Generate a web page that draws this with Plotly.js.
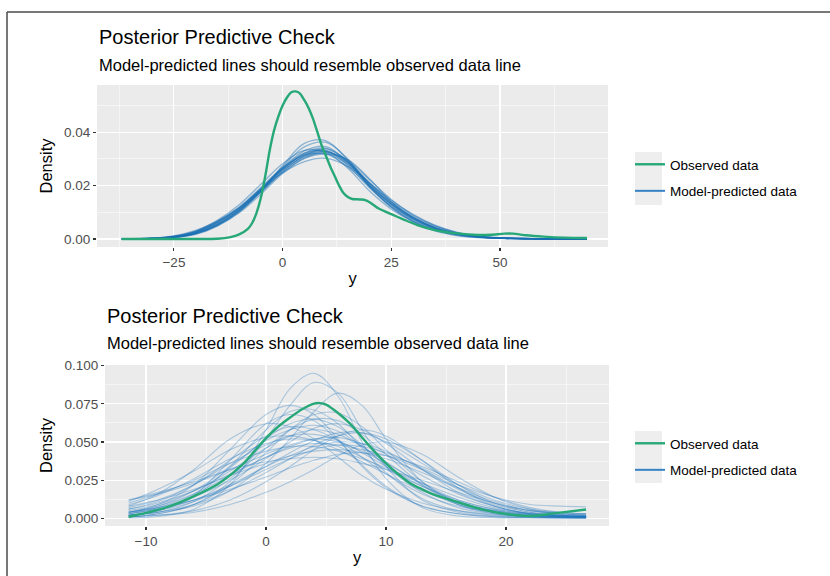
<!DOCTYPE html>
<html>
<head>
<meta charset="utf-8">
<script src="https://cdn.plot.ly/plotly-3.0.1.min.js"></script>
<style>html,body{margin:0;padding:0;background:#fff;}#chart{width:830px;height:576px;}</style>
</head>
<body>
<div id="chart"></div>
<script>
// ---------- Panel 1 data ----------
const p1ObsX = [-37,-30,-25,-20,-15,-12,-10,-8,-7,-6,-5,-4,-3,-2,-1,0,1,2,3,4,5,6,7,8,9,10,11,12,13,14,15,16,17,18,19,20,22,25,28,31,35,40,45,48,51,53,56,60,65,70];
const p1ObsY = [0,0,0,0,0.0001,0.0007,0.0017,0.0038,0.0060,0.0098,0.0155,0.0235,0.0330,0.0405,0.0458,0.0500,0.0530,0.0550,0.0553,0.0545,0.0520,0.0490,0.0450,0.0400,0.0350,0.0310,0.0270,0.0235,0.0200,0.0172,0.0157,0.0150,0.0149,0.0148,0.0146,0.0138,0.0115,0.0093,0.0072,0.0052,0.0033,0.0021,0.0015,0.0016,0.0020,0.0020,0.0014,0.0009,0.0005,0.0004];
const p1RepX = [-37,-30,-25,-20,-15,-10,-5,0,5,10,15,20,25,30,35,40,45,50,55,60,65,70];
const p1RepY = [
 [0,0.0002,0.0008,0.0024,0.0060,0.0112,0.0185,0.0262,0.0318,0.0332,0.0282,0.0200,0.0132,0.0080,0.0042,0.0020,0.0009,0.0004,0.0002,0.0001,0,0],
 [0,0.0001,0.0005,0.0017,0.0048,0.0100,0.0180,0.0270,0.0345,0.0362,0.0300,0.0200,0.0120,0.0065,0.0030,0.0013,0.0005,0.0002,0.0001,0,0,0],
 [0.0001,0.0004,0.0012,0.0032,0.0068,0.0118,0.0185,0.0248,0.0290,0.0302,0.0272,0.0210,0.0145,0.0092,0.0052,0.0026,0.0012,0.0005,0.0002,0.0001,0,0],
 [0,0.0003,0.0010,0.0030,0.0070,0.0128,0.0205,0.0282,0.0332,0.0325,0.0265,0.0180,0.0112,0.0065,0.0034,0.0016,0.0007,0.0003,0.0001,0,0,0],
 [0,0.0001,0.0006,0.0019,0.0050,0.0098,0.0168,0.0245,0.0303,0.0325,0.0295,0.0222,0.0148,0.0090,0.0050,0.0024,0.0010,0.0004,0.0002,0.0001,0,0],
 [0,0.0001,0.0006,0.0020,0.0052,0.0105,0.0182,0.0275,0.0358,0.0368,0.0295,0.0195,0.0118,0.0066,0.0033,0.0015,0.0006,0.0002,0.0001,0,0,0],
 [0,0.0002,0.0009,0.0026,0.0062,0.0115,0.0190,0.0265,0.0315,0.0328,0.0285,0.0205,0.0130,0.0076,0.0040,0.0019,0.0008,0.0003,0.0001,0,0,0],
 [0,0.0002,0.0007,0.0022,0.0055,0.0108,0.0178,0.0255,0.0312,0.0338,0.0292,0.0208,0.0135,0.0078,0.0041,0.0019,0.0008,0.0003,0.0001,0,0,0],
 [0,0.0002,0.0008,0.0023,0.0056,0.0106,0.0176,0.0250,0.0302,0.0318,0.0298,0.0225,0.0140,0.0080,0.0042,0.0020,0.0009,0.0004,0.0002,0.0001,0,0],
 [0.0001,0.0003,0.0011,0.0029,0.0066,0.0120,0.0193,0.0268,0.0322,0.0330,0.0275,0.0192,0.0124,0.0074,0.0040,0.0019,0.0008,0.0003,0.0001,0,0,0],
 [0,0.0002,0.0007,0.0021,0.0054,0.0107,0.0183,0.0266,0.0330,0.0346,0.0288,0.0196,0.0122,0.0070,0.0036,0.0017,0.0007,0.0003,0.0001,0,0,0],
 [0,0.0002,0.0009,0.0027,0.0064,0.0116,0.0186,0.0258,0.0308,0.0320,0.0280,0.0208,0.0140,0.0086,0.0048,0.0024,0.0011,0.0005,0.0002,0.0001,0,0],
 [0,0.0002,0.0008,0.0025,0.0059,0.0110,0.0181,0.0260,0.0322,0.0340,0.0290,0.0202,0.0128,0.0074,0.0038,0.0018,0.0008,0.0003,0.0001,0,0,0],
 [0,0.0001,0.0006,0.0020,0.0052,0.0103,0.0175,0.0252,0.0310,0.0328,0.0288,0.0212,0.0138,0.0082,0.0044,0.0021,0.0009,0.0004,0.0002,0.0001,0,0],
 [0.0001,0.0003,0.0010,0.0028,0.0063,0.0114,0.0187,0.0263,0.0314,0.0318,0.0270,0.0198,0.0132,0.0080,0.0044,0.0021,0.0009,0.0004,0.0002,0.0001,0,0]
];

// ---------- Panel 2 data ----------
const p2ObsX = [-11.45,-10,-8,-6,-4,-2,0,1,2,3,4,4.5,5,6,7,8,9,10,11,12,13,14,16,18,20,22,24,26.67];
const p2ObsY = [0.001,0.0035,0.008,0.0145,0.0225,0.035,0.0525,0.060,0.066,0.0715,0.0752,0.0755,0.0745,0.069,0.062,0.053,0.044,0.036,0.029,0.023,0.019,0.0155,0.0105,0.0058,0.0028,0.0015,0.0032,0.0058];
const p2RepX = [-11.45,-9,-6,-3,0,2,4,6,8,10,13,16,19,22,24.5,26.67];
const p2RepY = [
 [0.0003,0.0012,0.006,0.022,0.058,0.085,0.095,0.080,0.050,0.026,0.007,0.0015,0.0004,0.0002,0.0001,0.0001],
 [0.001,0.003,0.009,0.024,0.052,0.074,0.089,0.082,0.058,0.034,0.012,0.004,0.0015,0.0008,0.0005,0.0003],
 [0.002,0.004,0.008,0.018,0.036,0.052,0.070,0.082,0.074,0.052,0.024,0.009,0.003,0.0012,0.0006,0.0004],
 [0.004,0.009,0.022,0.045,0.068,0.074,0.068,0.052,0.034,0.020,0.008,0.003,0.0012,0.0006,0.0004,0.0003],
 [0.002,0.005,0.014,0.034,0.058,0.070,0.071,0.062,0.046,0.030,0.013,0.005,0.002,0.001,0.0007,0.0005],
 [0.001,0.003,0.009,0.022,0.043,0.058,0.068,0.069,0.060,0.045,0.024,0.010,0.004,0.0015,0.0008,0.0005],
 [0.003,0.007,0.016,0.033,0.052,0.062,0.065,0.060,0.048,0.034,0.017,0.007,0.003,0.0012,0.0008,0.0006],
 [0.004,0.007,0.014,0.025,0.039,0.050,0.059,0.062,0.058,0.049,0.032,0.017,0.008,0.003,0.0015,0.001],
 [0.006,0.011,0.022,0.038,0.054,0.060,0.058,0.051,0.040,0.029,0.016,0.008,0.004,0.002,0.0012,0.001],
 [0.005,0.009,0.018,0.031,0.046,0.054,0.058,0.055,0.047,0.037,0.022,0.011,0.005,0.002,0.001,0.0008],
 [0.002,0.004,0.009,0.018,0.030,0.039,0.048,0.054,0.056,0.052,0.038,0.022,0.010,0.004,0.002,0.0015],
 [0.007,0.012,0.022,0.036,0.048,0.054,0.055,0.051,0.043,0.034,0.021,0.011,0.005,0.0025,0.0015,0.001],
 [0.004,0.008,0.016,0.028,0.040,0.047,0.052,0.053,0.049,0.042,0.028,0.016,0.008,0.003,0.0018,0.0012],
 [0.009,0.015,0.026,0.039,0.049,0.052,0.051,0.047,0.040,0.032,0.021,0.012,0.006,0.003,0.002,0.0015],
 [0.003,0.006,0.012,0.022,0.034,0.041,0.047,0.050,0.049,0.044,0.032,0.019,0.010,0.005,0.003,0.002],
 [0.006,0.010,0.018,0.029,0.040,0.046,0.049,0.048,0.045,0.041,0.032,0.020,0.009,0.004,0.002,0.0015],
 [0.010,0.016,0.025,0.036,0.044,0.047,0.047,0.044,0.039,0.033,0.023,0.014,0.007,0.0035,0.0025,0.002],
 [0.008,0.012,0.019,0.028,0.036,0.041,0.044,0.045,0.043,0.039,0.030,0.020,0.011,0.005,0.003,0.0025],
 [0.004,0.007,0.012,0.019,0.027,0.033,0.038,0.042,0.043,0.041,0.034,0.024,0.014,0.007,0.004,0.003],
 [0.012,0.017,0.024,0.032,0.037,0.039,0.040,0.039,0.036,0.032,0.025,0.017,0.010,0.005,0.0035,0.003],
 [0.008,0.016,0.032,0.052,0.062,0.060,0.052,0.040,0.028,0.019,0.010,0.005,0.0025,0.0015,0.0012,0.001],
 [0.001,0.002,0.005,0.012,0.024,0.034,0.045,0.054,0.058,0.054,0.038,0.020,0.008,0.003,0.0015,0.001],
 [0.002,0.004,0.011,0.026,0.046,0.058,0.065,0.064,0.055,0.042,0.022,0.009,0.0035,0.0015,0.0009,0.0006],
 [0.002,0.005,0.011,0.021,0.034,0.043,0.051,0.056,0.056,0.050,0.036,0.022,0.012,0.006,0.004,0.003],
 [0.004,0.008,0.018,0.034,0.051,0.058,0.061,0.057,0.047,0.035,0.019,0.009,0.004,0.002,0.0013,0.001],
 [0.011,0.019,0.031,0.045,0.053,0.054,0.051,0.045,0.037,0.029,0.018,0.010,0.005,0.0025,0.0015,0.0012],
 [0.001,0.002,0.004,0.009,0.017,0.024,0.032,0.041,0.048,0.050,0.042,0.027,0.014,0.006,0.003,0.002],
 [0.002,0.005,0.015,0.038,0.062,0.068,0.064,0.051,0.035,0.021,0.008,0.003,0.001,0.0005,0.0003,0.0002],
 [0.003,0.006,0.012,0.021,0.032,0.039,0.045,0.048,0.047,0.043,0.033,0.022,0.014,0.009,0.008,0.0075],
 [0.012,0.016,0.023,0.032,0.042,0.048,0.052,0.050,0.044,0.036,0.023,0.012,0.006,0.003,0.002,0.0015]
];

// ---------- text ----------
const titleText = "Posterior Predictive Check";
const subtitleText = "Model-predicted lines should resemble observed data line";
const obsName = "Observed data";
const repName = "Model-predicted data";
const xTitle = "y";
const yTitle = "Density";

// ---------- styling ----------
const W = 830, H = 576;
const px = v => v / W;
const py = v => 1 - v / H;
const GREEN = "#27a878";
const BLUE_LEG = "#3583c4";
const FONT = "Liberation Sans, Arial, Helvetica, sans-serif";

const traces = [];
p1RepY.forEach((ys) => traces.push({
  type: "scatter", mode: "lines", x: p1RepX, y: ys, xaxis: "x", yaxis: "y",
  line: {color: "rgba(24,110,180,0.45)", width: 1.3, shape: "spline", smoothing: 1},
  showlegend: false, hoverinfo: "skip", legend: "legend", legendgroup: "rep1"
}));
traces.push({type: "scatter", mode: "lines", x: p1ObsX, y: p1ObsY, xaxis: "x", yaxis: "y",
  name: obsName, line: {color: GREEN, width: 2.4, shape: "spline", smoothing: 0.6},
  legend: "legend", legendgroup: "obs1", legendrank: 1});
traces.push({type: "scatter", mode: "lines", x: [null], y: [null], xaxis: "x", yaxis: "y",
  name: repName, line: {color: BLUE_LEG, width: 2}, legend: "legend", legendgroup: "rep1", legendrank: 2});

p2RepY.forEach((ys) => traces.push({
  type: "scatter", mode: "lines", x: p2RepX, y: ys, xaxis: "x2", yaxis: "y2",
  line: {color: "rgba(31,119,190,0.32)", width: 1.1, shape: "spline", smoothing: 1},
  showlegend: false, hoverinfo: "skip", legend: "legend2", legendgroup: "rep2"
}));
traces.push({type: "scatter", mode: "lines", x: p2ObsX, y: p2ObsY, xaxis: "x2", yaxis: "y2",
  name: obsName, line: {color: GREEN, width: 2.4, shape: "spline", smoothing: 0.8},
  legend: "legend2", legendgroup: "obs2", legendrank: 1});
traces.push({type: "scatter", mode: "lines", x: [null], y: [null], xaxis: "x2", yaxis: "y2",
  name: repName, line: {color: BLUE_LEG, width: 2}, legend: "legend2", legendgroup: "rep2", legendrank: 2});

const tickfont = {family: FONT, size: 13.5, color: "#4D4D4D"};
const titlefont = {family: FONT, size: 16.5, color: "#000"};
function axis(extra) {
  return Object.assign({
    ticks: "outside", ticklen: 3, tickwidth: 1.1, tickcolor: "#333333", tickfont: tickfont,
    showgrid: true, gridcolor: "#FFFFFF", gridwidth: 1.1, zeroline: false, showline: false,
    fixedrange: true
  }, extra);
}

const legendBase = {
  xanchor: "left", yanchor: "top", bgcolor: "rgba(0,0,0,0)", borderwidth: 0,
  font: {family: FONT, size: 13.5, color: "#000"}, traceorder: "grouped", tracegroupgap: 6,
  itemwidth: 30
};

const layout = {
  width: W, height: H,
  margin: {l: 0, r: 0, t: 0, b: 0, pad: 0},
  paper_bgcolor: "#FFFFFF", plot_bgcolor: "#EBEBEB",
  font: {family: FONT},
  showlegend: true,
  xaxis: axis({domain: [px(97), px(608)], range: [-42.7, 74.85], anchor: "y",
    tick0: 0, dtick: 25,
    minor: {dtick: 12.5, showgrid: true, gridcolor: "#FFFFFF", gridwidth: 0.5},
    title: {text: xTitle, font: titlefont, standoff: 3}}),
  yaxis: axis({domain: [py(247), py(85)], range: [-0.003, 0.0577], anchor: "x",
    tick0: 0, dtick: 0.02, tickformat: ".2f",
    minor: {dtick: 0.01, showgrid: true, gridcolor: "#FFFFFF", gridwidth: 0.5},
    title: {text: yTitle, font: titlefont, standoff: 7}}),
  xaxis2: axis({domain: [px(105), px(609)], range: [-13.42, 28.58], anchor: "y2",
    tick0: 0, dtick: 10,
    minor: {dtick: 5, showgrid: true, gridcolor: "#FFFFFF", gridwidth: 0.5},
    title: {text: xTitle, font: titlefont, standoff: 3}}),
  yaxis2: axis({domain: [py(526), py(365)], range: [-0.00505, 0.10046], anchor: "x2",
    tick0: 0, dtick: 0.025, tickformat: ".3f",
    minor: {dtick: 0.0125, showgrid: true, gridcolor: "#FFFFFF", gridwidth: 0.5},
    title: {text: yTitle, font: titlefont, standoff: 7}}),
  legend: Object.assign({}, legendBase, {x: px(630), y: py(149)}),
  legend2: Object.assign({}, legendBase, {x: px(630), y: py(428)}),
  annotations: [
    {text: titleText, xref: "paper", yref: "paper", x: px(97), y: py(37), xanchor: "left", yanchor: "middle",
     showarrow: false, font: {family: FONT, size: 20, color: "#000"}},
    {text: subtitleText, xref: "paper", yref: "paper", x: px(97), y: py(65), xanchor: "left", yanchor: "middle",
     showarrow: false, font: {family: FONT, size: 16.5, color: "#000"}},
    {text: titleText, xref: "paper", yref: "paper", x: px(105), y: py(316), xanchor: "left", yanchor: "middle",
     showarrow: false, font: {family: FONT, size: 20, color: "#000"}},
    {text: subtitleText, xref: "paper", yref: "paper", x: px(105), y: py(343), xanchor: "left", yanchor: "middle",
     showarrow: false, font: {family: FONT, size: 16.5, color: "#000"}}
  ],
  shapes: [
    {type: "rect", xref: "paper", yref: "paper", x0: px(635), x1: px(662), y0: py(205), y1: py(152),
     fillcolor: "#EEEEEE", line: {width: 0}, layer: "below"},
    {type: "rect", xref: "paper", yref: "paper", x0: px(635), x1: px(662), y0: py(483), y1: py(431),
     fillcolor: "#EEEEEE", line: {width: 0}, layer: "below"},
    {type: "line", xref: "paper", yref: "paper", x0: px(7), x1: px(7), y0: 0, y1: py(12),
     line: {color: "#4a4a4a", width: 1.5}},
    {type: "line", xref: "paper", yref: "paper", x0: px(7), x1: 1, y0: py(12), y1: py(12),
     line: {color: "#4a4a4a", width: 1.5}}
  ]
};

Plotly.newPlot("chart", traces, layout, {staticPlot: true, displayModeBar: false});
</script>
</body>
</html>
